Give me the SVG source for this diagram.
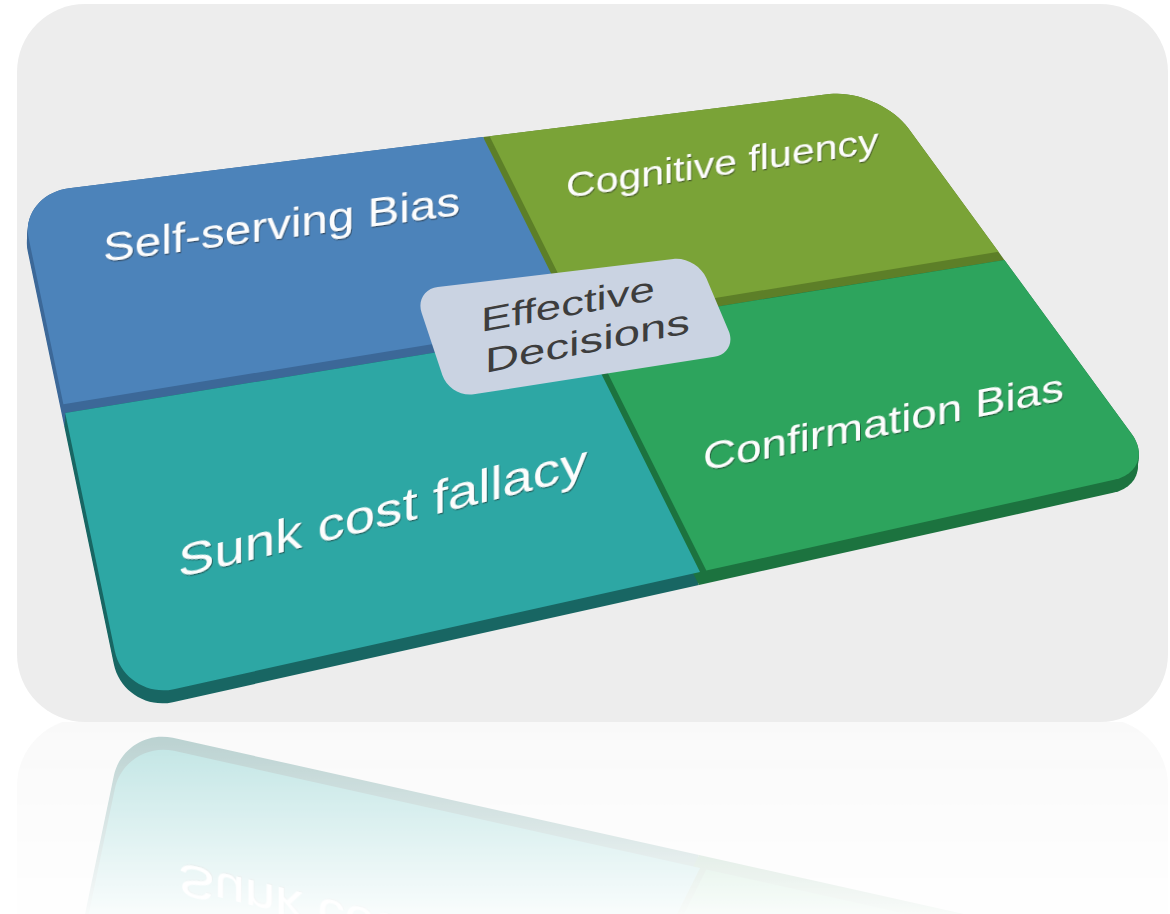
<svg xmlns="http://www.w3.org/2000/svg" xmlns:xlink="http://www.w3.org/1999/xlink" width="1170" height="914" viewBox="0 0 1170 914">
  <defs>
    <style>
      .lbl { font-family: "Liberation Sans", Arial, sans-serif; fill: #fdfdfd; filter: url(#txtShadow); }
      .ctr { font-family: "Liberation Sans", Arial, sans-serif; fill: #3d3d3d; }
      .blue-side { fill: #3c6898; }
      .olive-side { fill: #5d7f28; }
      .teal-side { fill: #186663; }
      .green-side { fill: #1c733f; }
    </style>
    <filter id="txtShadow" x="-10%" y="-40%" width="120%" height="180%">
      <feDropShadow dx="0.8" dy="1.3" stdDeviation="0.6" flood-color="#222" flood-opacity="0.55"/>
    </filter>
    <linearGradient id="fadeGrad" x1="0" y1="0" x2="0" y2="1">
      <stop offset="0" stop-color="#fff" stop-opacity="0.32"/>
      <stop offset="1" stop-color="#fff" stop-opacity="0.03"/>
    </linearGradient>
    <mask id="fadeMask" maskUnits="userSpaceOnUse" x="0" y="722" width="1170" height="192">
      <rect x="0" y="722" width="1170" height="192" fill="url(#fadeGrad)"/>
    </mask>
    <!-- full tile outlines on the tilted board (up to the divider lines) -->
    <path id="blueFull" d="M 28.7,238.3 C 23.6,214.1 41.8,191.6 69.1,188.2 L 483,137 L 579,329 L 65.2,413 Z"/>
    <path id="oliveFull" d="M 483,137 L 829.4,94.1 C 856.7,90.7 892.3,106.2 908.5,128.4 L 1004.4,259.9 L 579,329 Z"/>
    <path id="tealFull" d="M 65.2,413 L 579,329 L 700,572 L 173.8,689.2 C 147,695.1 120.4,678 114.8,651.1 Z"/>
    <path id="greenFull" d="M 579,329 L 1004.4,259.9 L 1131.5,433.7 C 1146.1,453.7 1138.2,474.4 1114.1,479.8 L 700,572 Z"/>
  </defs>

  <rect width="1170" height="914" fill="#ffffff"/>

  <g id="scene">
    <!-- backdrop panel -->
    <rect id="panel" x="17" y="4" width="1151" height="718" rx="68" ry="68" fill="#ededed"/>

    <!-- board thickness: tiles swept down-left -->
    <g id="board-base">
      <g class="blue-side">
        <use xlink:href="#blueFull"/>
        <use xlink:href="#blueFull" transform="translate(-0.17,2.17)"/>
        <use xlink:href="#blueFull" transform="translate(-0.33,4.33)"/>
        <use xlink:href="#blueFull" transform="translate(-0.5,6.5)"/>
        <use xlink:href="#blueFull" transform="translate(-0.67,8.67)"/>
        <use xlink:href="#blueFull" transform="translate(-0.83,10.83)"/>
        <use xlink:href="#blueFull" transform="translate(-1,13)"/>
      </g>
      <g class="olive-side">
        <use xlink:href="#oliveFull"/>
        <use xlink:href="#oliveFull" transform="translate(-0.17,2.17)"/>
        <use xlink:href="#oliveFull" transform="translate(-0.33,4.33)"/>
        <use xlink:href="#oliveFull" transform="translate(-0.5,6.5)"/>
        <use xlink:href="#oliveFull" transform="translate(-0.67,8.67)"/>
        <use xlink:href="#oliveFull" transform="translate(-0.83,10.83)"/>
        <use xlink:href="#oliveFull" transform="translate(-1,13)"/>
      </g>
      <g class="teal-side">
        <use xlink:href="#tealFull"/>
        <use xlink:href="#tealFull" transform="translate(-0.17,2.17)"/>
        <use xlink:href="#tealFull" transform="translate(-0.33,4.33)"/>
        <use xlink:href="#tealFull" transform="translate(-0.5,6.5)"/>
        <use xlink:href="#tealFull" transform="translate(-0.67,8.67)"/>
        <use xlink:href="#tealFull" transform="translate(-0.83,10.83)"/>
        <use xlink:href="#tealFull" transform="translate(-1,13)"/>
      </g>
      <g class="green-side">
        <use xlink:href="#greenFull"/>
        <use xlink:href="#greenFull" transform="translate(-0.17,2.17)"/>
        <use xlink:href="#greenFull" transform="translate(-0.33,4.33)"/>
        <use xlink:href="#greenFull" transform="translate(-0.5,6.5)"/>
        <use xlink:href="#greenFull" transform="translate(-0.67,8.67)"/>
        <use xlink:href="#greenFull" transform="translate(-0.83,10.83)"/>
        <use xlink:href="#greenFull" transform="translate(-1,13)"/>
      </g>
    </g>

    <g id="node-self-serving">
      <path d="M 28.7,238.3 C 23.6,214.1 41.8,191.6 69.1,188.2 L 483,137 L 574.8,320.9 L 63.4,404.2 Z" fill="#4c83ba"/>
      <text class="lbl" font-size="40.5" transform="translate(103,262) skewY(-7.5) scale(1.176,1)">Self-serving Bias</text>
    </g>

    <g id="node-cognitive-fluency">
      <path d="M 489.6,136.2 L 829.4,94.1 C 856.7,90.7 892.3,106.2 908.5,128.4 L 998.5,251.8 L 581.2,319.9 Z" fill="#7aa337"/>
      <text class="lbl" font-size="34.9" transform="translate(566,198) skewY(-8.3) scale(1.176,1)">Cognitive fluency</text>
    </g>

    <g id="node-sunk-cost">
      <path d="M 65.2,413 L 579,329 L 700,572 L 173.8,689.2 C 147,695.1 120.4,678 114.8,651.1 Z" fill="#2da7a4"/>
      <text class="lbl" font-size="46.4" transform="translate(178,578) skewY(-13.9) scale(1.176,1)">Sunk cost fallacy</text>
    </g>

    <g id="node-confirmation">
      <path d="M 585.4,328.2 L 1004.4,259.9 L 1131.5,433.7 C 1146.1,453.7 1138.2,474.4 1114.1,479.8 L 706.3,570.6 Z" fill="#2da45d"/>
      <text class="lbl" font-size="38.9" transform="translate(703,471) skewY(-11.1) scale(1.176,1)">Confirmation Bias</text>
    </g>

    <g id="node-effective-decisions">
      <path d="M 421.6,312.8 C 417.4,300.3 424.7,288.7 437.8,287.1 L 673.2,258.9 C 686.3,257.3 701.2,265.9 706.3,278.1 L 728.7,330.9 C 733.8,343.1 727.3,354.7 714.3,356.7 L 473.7,394.3 C 460.7,396.3 446.6,387.7 442.4,375.2 Z" fill="#cad3e2"/>
      <text class="ctr" font-size="34" transform="translate(481,332) skewY(-10.5) scale(1.34,1)">Effective</text>
      <text class="ctr" font-size="34.5" transform="translate(485,373) skewY(-11.1) scale(1.37,1)">Decisions</text>
    </g>

    <g id="connectors"/>
  </g>

  <!-- mirrored, fading reflection under the panel -->
  <g id="reflection" mask="url(#fadeMask)">
    <use xlink:href="#scene" transform="matrix(1,0,0,-1,0,1440)"/>
  </g>
</svg>
